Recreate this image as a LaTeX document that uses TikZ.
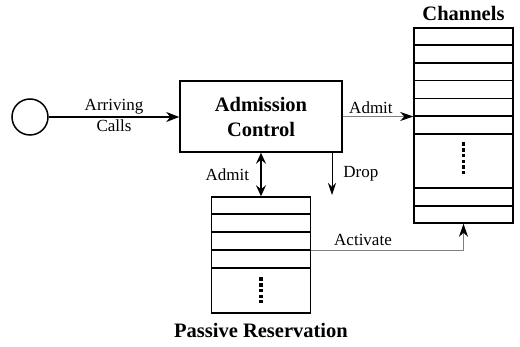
\documentclass[tikz,border=0pt]{standalone}
\usepackage{fontspec}
\setmainfont{Liberation Serif}
\usetikzlibrary{positioning,arrows.meta}

\begin{document}
\begin{tikzpicture}[x=1pt, y=-1pt,
  lbl/.style={font=\fontsize{17}{20}\selectfont, inner sep=2pt, text=black},
  title/.style={font=\fontsize{20.5}{25}\selectfont\bfseries, align=center},
  stack/.style={draw, line width=1.5pt, minimum width=99pt, inner sep=0pt},
  rowline/.style={line width=1.5pt},
  dots/.style={line width=3.5pt, dash pattern=on 3.5pt off 2.3pt},
  arr/.style={-{Stealth[length=13pt, width=10pt, inset=4pt]}},
  thinarr/.style={line width=0.9pt, -{Stealth[length=12pt, width=8pt, inset=4pt]}},
  grayarr/.style={line width=1pt, gray, -{Stealth[length=13pt, width=9pt, inset=4pt, black]}},
  dblarr/.style={line width=2pt, {Stealth[length=11pt, width=10pt, inset=4pt]}-{Stealth[length=11pt, width=10pt, inset=4pt]}}
]
  \useasboundingbox (0,0) rectangle (520,347);

  % blocks
  \node[draw, circle, line width=1.5pt, minimum size=36pt, inner sep=0pt] (src) at (30,117) {};
  \node[draw, line width=1.5pt, minimum width=162pt, minimum height=71pt, title] (ac) at (261,116.5) {Admission\\Control};
  \node[stack, minimum height=195pt] (chan) at (463.5,125.5) {};
  \node[stack, minimum height=116pt] (pr) at (261,255) {};

  % rows of the stacks
  \foreach \k in {1,...,6}
    \draw[rowline] ([yshift=-17.8*\k pt]chan.north west) -- ([yshift=-17.8*\k pt]chan.north east);
  \foreach \k in {1,2}
    \draw[rowline] ([yshift=17.8*\k pt]chan.south west) -- ([yshift=17.8*\k pt]chan.south east);
  \foreach \k in {1,...,4}
    \draw[rowline] ([yshift=-18*\k pt]pr.north west) -- ([yshift=-18*\k pt]pr.north east);
  \draw[dots] ([yshift=-115pt]chan.north) -- ++(0,32);
  \draw[dots] ([yshift=-81pt]pr.north) -- ++(0,26);

  \node[title, anchor=base] (chanlbl) at ([yshift=7pt]chan.north) {Channels};
  \node[title, anchor=base] (prlbl) at ([yshift=-24pt]pr.south) {Passive Reservation};

  % connectors
  \coordinate (dropend) at (332,195);
  \coordinate (actsrc) at ([yshift=-54pt]pr.north east);

  \draw[arr, line width=1.5pt] (src.east) -- (src.east -| ac.west)
    node[midway, above, lbl] {Arriving} node[midway, below, lbl] {Calls};
  \draw[grayarr] (ac.east) -- (ac.east -| chan.west) node[pos=0.4, above, lbl] {Admit};
  \draw[dblarr] (ac.south) -- (pr.north) node[midway, left=9pt, lbl] {Admit};
  \draw[thinarr] (ac.south -| dropend) -- (dropend) node[midway, right=9pt, lbl] {Drop};
  \draw[grayarr] (actsrc) -| (chan.south) node[pos=0.17, above=2pt, lbl] {Activate};
\end{tikzpicture}
\end{document}
